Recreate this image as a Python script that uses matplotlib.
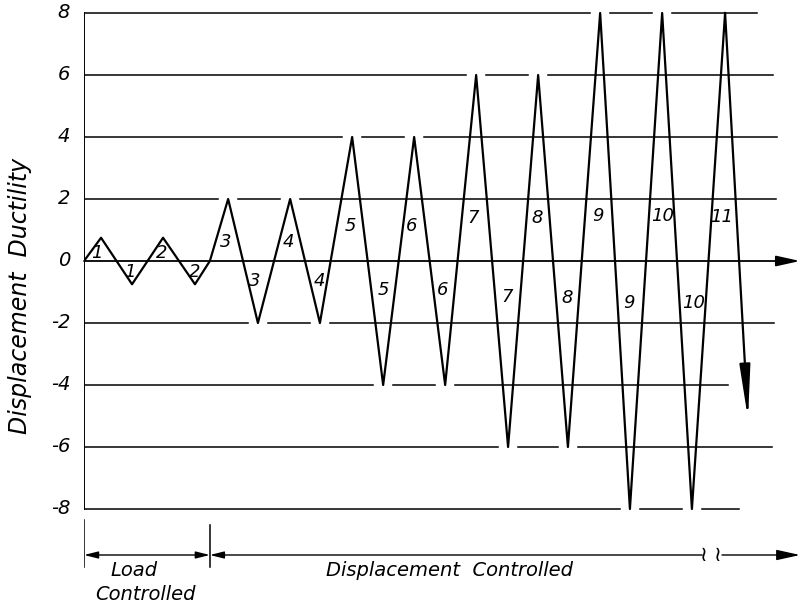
import matplotlib.pyplot as plt
import numpy as np

# loading history: time in half-cycle units, displacement ductility
t_pts = [0, 0.55, 1.55, 2.55, 3.58, 4.06, 4.65, 5.61, 6.65, 7.61, 8.65, 9.65,
         10.65, 11.65, 12.65, 13.68, 14.65, 15.61, 16.65, 17.61, 18.65, 19.61, 20.68]
mu_pts = [0, 0.75, -0.75, 0.75, -0.75, 0, 2, -2, 2, -2, 4, -4,
          4, -4, 6, -6, 6, -6, 8, -8, 8, -8, 8]
arrow_end = (21.42, -5.1)

# cycle numbers (above and below zero)
up_nums = ['1', '2', '3', '4', '5', '6', '7', '8', '9', '10', '11']
up_t = [0.42, 2.52, 4.58, 6.58, 8.58, 10.58, 12.55, 14.61, 16.58, 18.65, 20.58]
up_mu = [0.26, 0.26, 0.61, 0.61, 1.13, 1.13, 1.39, 1.39, 1.45, 1.45, 1.42]
lo_nums = ['1', '2', '3', '4', '5', '6', '7', '8', '9', '10']
lo_t = [1.48, 3.58, 5.52, 7.61, 9.65, 11.58, 13.65, 15.58, 17.58, 19.65]
lo_mu = [-0.35, -0.35, -0.65, -0.65, -0.94, -0.94, -1.16, -1.19, -1.35, -1.35]

# horizontal reference lines and where each one stops
grid_levels = [8, 6, 4, 2, -2, -4, -6, -8]
grid_ends = [21.71, 22.23, 22.35, 22.32, 22.26, 20.77, 22.19, 21.13]
yticks = [8, 6, 4, 2, 0, -2, -4, -6, -8]

# phases along the bottom
t_switch = 4.06
t_break = 19.94
t_resume = 20.58

px = 31.0  # pixels per unit
fig = plt.figure(figsize=(8, 6.07), dpi=100)
ax = fig.add_axes([84 / 800, 0, 716 / 800, 1])
ax.set_xlim(0, 716 / px)
ax.set_ylim(-8 - 98 / px, 8 + 13 / px)
ax.axis('off')

k = 'black'
font = dict(style='italic', color=k)

# gridlines, broken around the peaks that reach them (except last one)
gap = 0.33
for lev, end in zip(grid_levels, grid_ends):
    cuts = [t for t, m in zip(t_pts[:-1], mu_pts[:-1]) if m == lev]
    start = 0
    for c in cuts:
        ax.plot([start, c - gap], [lev, lev], color=k, lw=1.1)
        start = c + gap
    ax.plot([start, end], [lev, lev], color=k, lw=1.1)

# vertical axis and zero axis with arrow
ax.plot([0, 0], [-8, 8], color=k, lw=1.4)
ax.annotate('', xy=(716 / px, 0), xytext=(0, 0),
            arrowprops=dict(arrowstyle='-|>,head_length=0.9,head_width=0.2',
                            color=k, lw=1.3, shrinkA=0, shrinkB=0,
                            mutation_scale=16))

# loading path
ax.plot(t_pts, mu_pts, color=k, lw=1.6)
ax.annotate('', xy=arrow_end, xytext=(t_pts[-1], mu_pts[-1]),
            arrowprops=dict(arrowstyle='-|>,head_length=2.0,head_width=0.2',
                            color=k, lw=1.6, shrinkA=0, shrinkB=0,
                            mutation_scale=16))

for s, t, m in zip(up_nums, up_t, up_mu):
    ax.text(t, m, s, ha='center', va='center', fontsize=13, **font)
for s, t, m in zip(lo_nums, lo_t, lo_mu):
    ax.text(t, m, s, ha='center', va='center', fontsize=13, **font)

# tick labels
for v in yticks:
    ax.text(-0.45, v, str(v), ha='right', va='center', fontsize=14,
            clip_on=False, **font)

ax.text(-2.06, (261 - 296) / px, 'Displacement  Ductility', rotation=90,
        ha='center', va='center', fontsize=17, clip_on=False, **font)

# bottom phase arrows
yb = (261 - 555) / px
ax.plot([0, 0], [(261 - 520) / px, (261 - 567) / px], color=k, lw=1.1)
ax.plot([t_switch, t_switch], [(261 - 525) / px, (261 - 567) / px], color=k, lw=1.1)
ax.annotate('', xy=(0, yb), xytext=(t_switch, yb),
            arrowprops=dict(arrowstyle='<|-|>,head_length=0.6,head_width=0.15',
                            color=k, lw=1.0, shrinkA=0, shrinkB=0,
                            mutation_scale=14))
ax.annotate('', xy=(t_switch, yb), xytext=(t_break, yb),
            arrowprops=dict(arrowstyle='-|>,head_length=0.6,head_width=0.15',
                            color=k, lw=1.0, shrinkA=0, shrinkB=0,
                            mutation_scale=14))
ax.annotate('', xy=(716 / px, yb), xytext=(t_resume, yb),
            arrowprops=dict(arrowstyle='-|>,head_length=0.9,head_width=0.2',
                            color=k, lw=1.0, shrinkA=0, shrinkB=0,
                            mutation_scale=16))
for tb in [t_break + 0.05, t_resume - 0.12]:
    ax.text(tb, yb, '\u2240', ha='center', va='center', fontsize=15, color=k)

ax.text(1.61, (261 - 571) / px, 'Load', ha='center', va='center', fontsize=14, **font)
ax.text(1.97, (261 - 595) / px, 'Controlled', ha='center', va='center', fontsize=14, **font)
ax.text(11.8, (261 - 570) / px, 'Displacement  Controlled', ha='center', va='center',
        fontsize=14, **font)

fig.savefig('out.png', dpi=100)
